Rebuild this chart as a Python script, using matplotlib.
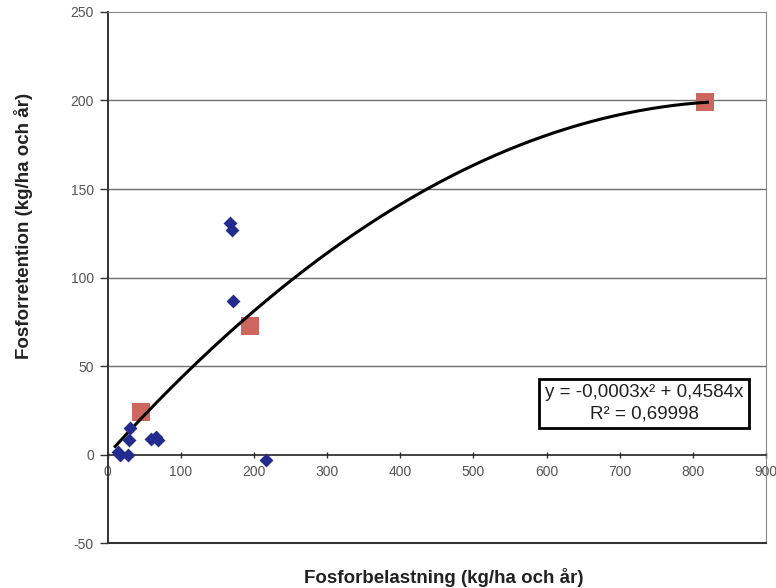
import numpy as np
import matplotlib
matplotlib.use("Agg")
import matplotlib.pyplot as plt

plt.rcParams['font.family'] = ['Liberation Sans', 'DejaVu Sans']
plt.rcParams['axes.unicode_minus'] = False

# Data
blue_x = [14, 16, 27, 29, 30, 59, 66, 68, 216, 167, 170, 171]
blue_y = [1.5, 0, 0, 8, 15, 9, 10, 8, -3, 131, 127, 87]
red_x = [45, 194, 817]
red_y = [24, 72.6, 199]

# trendline coefficients (as drawn)
trend_a = -0.000263
trend_b = 0.4584
trend_x0, trend_x1 = 10, 820

xticks = [0, 100, 200, 300, 400, 500, 600, 700, 800, 900]
yticks = [-50, 0, 50, 100, 150, 200, 250]

fig = plt.figure(figsize=(7.76, 5.88), dpi=100)
ax = fig.add_axes([0.139, 0.0765, 0.848, 0.9031])
ax.set_xlim(0, 900)
ax.set_ylim(-50, 250)

for y in [50, 100, 150, 200]:
    ax.axhline(y, color='#6e6e6e', lw=1.0, zorder=1)

xs = np.linspace(trend_x0, trend_x1, 300)
ax.plot(xs, trend_a * xs**2 + trend_b * xs, color='black', lw=2.2, zorder=3)

ax.scatter(red_x, red_y, marker='s', s=170, color='#cd665c', zorder=2, linewidths=0)
ax.scatter(blue_x, blue_y, marker='D', s=50, color='#232b8e', zorder=4, linewidths=0)

# frame
ax.spines['left'].set_color('#333333')
ax.spines['left'].set_linewidth(1.4)
ax.spines['right'].set_color('#888888')
ax.spines['top'].set_color('#888888')
ax.spines['bottom'].set_position(('data', 0))
ax.spines['bottom'].set_color('#222222')
ax.spines['bottom'].set_linewidth(1.2)
ax.axhline(-50, color='#333333', lw=1.5, clip_on=False, zorder=5)

ax.set_xticks(xticks)
ax.set_yticks(yticks)
ax.tick_params(axis='x', direction='inout', length=5, width=1, colors='#333333',
               labelcolor='#555555', labelsize=10, pad=5)
ax.tick_params(axis='y', direction='out', length=6, width=1, colors='#333333',
               labelcolor='#555555', labelsize=10, pad=4)

ax.set_xlabel('Fosforbelastning (kg/ha och år)', fontsize=13.5, fontweight='bold',
              color='#222222')
ax.xaxis.set_label_coords(0.511, -0.064)
ax.xaxis.label.set_va('center')
ax.set_ylabel('Fosforretention (kg/ha och år)', fontsize=13.5, fontweight='bold',
              color='#222222')
ax.yaxis.set_label_coords(-0.128, 0.597)
ax.yaxis.label.set_va('center')

ax.text(0.815, 0.263, 'y = -0,0003x² + 0,4584x\nR² = 0,69998', transform=ax.transAxes,
        ha='center', va='center', fontsize=13.5, color='#222222', linespacing=1.3,
        bbox=dict(boxstyle='square,pad=0.3', facecolor='white', edgecolor='black', lw=2),
        zorder=6)

fig.savefig('out.png', dpi=100)
